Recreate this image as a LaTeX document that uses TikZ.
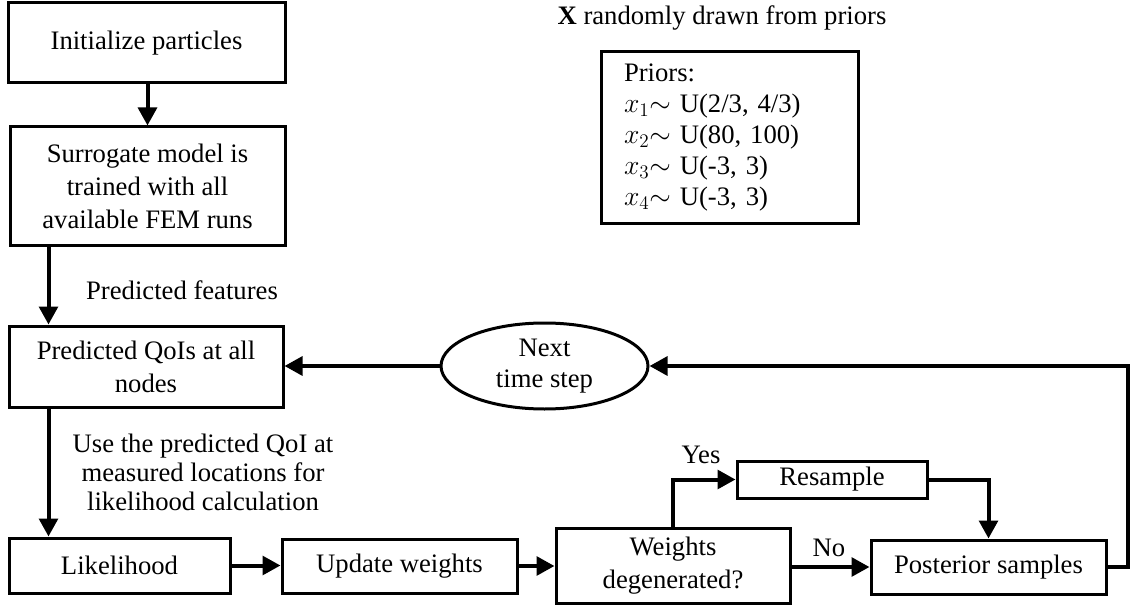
\documentclass[tikz,border=0pt]{standalone}
\usepackage{fontspec}
\setmainfont{Liberation Serif}
\usetikzlibrary{arrows.meta,shapes.geometric}

\begin{document}
\begin{tikzpicture}[x=0.75pt,y=-0.75pt,
  font=\fontsize{20}{24.75}\selectfont,
  box/.style={draw, line width=2.25pt, rectangle, align=center, inner sep=2pt},
  oval/.style={draw, line width=2.25pt, ellipse, align=center, inner sep=1pt},
  arr/.style={line width=3pt, -{Triangle[length=13.5pt,width=14pt]}},
  lbl/.style={align=center, inner sep=0pt}]

\useasboundingbox (0,0) rectangle (1130,606);

% process boxes
\node[box, minimum width=207.75pt, minimum height=60pt] (init) at (146.5,43) {Initialize particles};
\node[box, minimum width=206.25pt, minimum height=88.5pt] (surr) at (147.5,186)
  {Surrogate model is\\trained with all\\available FEM runs};
\node[box, minimum width=205.5pt, minimum height=60.75pt] (qoi) at (146,366.5)
  {Predicted QoIs at all\\nodes};
\node[oval, minimum width=155.25pt, minimum height=64.5pt,
  font=\fontsize{20}{23.25}\selectfont] (next) at (544.5,366) {Next\\time step};
\node[box, minimum width=165.75pt, minimum height=41.25pt] (lik) at (119.5,565.5) {Likelihood};
\node[box, minimum width=176.25pt, minimum height=40.5pt] (upd) at (399.5,566) {Update weights};
\node[box, minimum width=175.5pt, minimum height=56.25pt] (deg) at (673,565.5) {Weights\\degenerated?};
\node[box, minimum width=142.5pt, minimum height=27.75pt] (res) at (832,479.5) {Resample};
\node[box, minimum width=176.25pt, minimum height=40.5pt] (post) at (988.5,567) {Posterior samples};

% priors
\node[lbl] (ptitle) at (722,18) {\textbf{X} randomly drawn from priors};
\node[draw, line width=2.25pt, rectangle, minimum width=192.75pt, minimum height=128.25pt,
  text width=158.25pt, inner xsep=17.25pt, align=left,
  font=\fontsize{20}{23.25}\selectfont] (priors) at (729.5,137.5)
  {Priors:\\
   $x_1{\sim}$ U(2/3, 4/3)\\
   $x_2{\sim}$ U(80, 100)\\
   $x_3{\sim}$ U(-3, 3)\\
   $x_4{\sim}$ U(-3, 3)};

% labels
\node[lbl] (lfeat) at (182,290) {Predicted features};
\node[lbl, font=\fontsize{20}{21.75}\selectfont] (luse) at (203,472)
  {Use the predicted QoI at\\measured locations for\\likelihood calculation};
\node[lbl] (lyes) at (701,455) {Yes};
\node[lbl] (lno) at (829,548) {No};

% connectors
\coordinate (fb) at (1128,366);
\draw[arr] (init.south) -- (surr.south |- init.south) -- (surr.north);
\draw[arr] ([xshift=30pt]surr.south west) -- ([xshift=30pt]surr.south west |- qoi.north);
\draw[arr] ([xshift=30.75pt]qoi.south west) -- ([xshift=30.75pt]qoi.south west |- lik.north);
\draw[arr] (next.west) -- (qoi.east |- next.west);
\draw[arr] (lik.east) -- (upd.west |- lik.east);
\draw[arr] (upd.east) -- (deg.west |- upd.east);
\draw[arr] (deg.east |- post.west) -- (post.west);
\draw[arr] (deg.north) |- (res.west);
\draw[arr] (res.east) -| (post.north);
\draw[arr] (post.east) -| (fb) -- (next.east);

\end{tikzpicture}
\end{document}
